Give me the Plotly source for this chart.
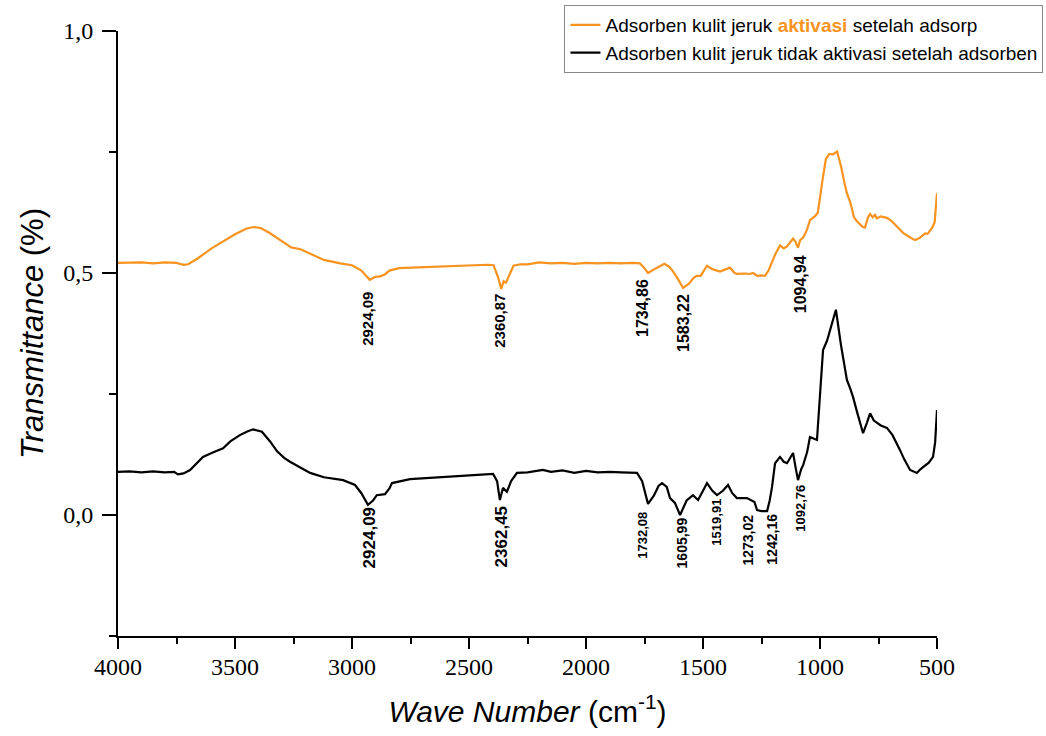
import plotly.graph_objects as go

# ---- Data ----
wn_act = [4000, 3900, 3850, 3800, 3750, 3720, 3700, 3660, 3600, 3550, 3500, 3450, 3420, 3390, 3350, 3300,
          3260, 3220, 3180, 3120, 3050, 3000, 2960, 2924, 2900, 2880, 2860, 2840, 2800, 2700, 2600, 2500,
          2420, 2395, 2375, 2362, 2352, 2342, 2325, 2310, 2280, 2250, 2200, 2150, 2100, 2050, 2000, 1950,
          1900, 1850, 1800, 1770, 1750, 1735, 1700, 1665, 1645, 1632, 1610, 1585, 1560, 1540, 1526, 1510,
          1483, 1460, 1427, 1385, 1365, 1355, 1320, 1300, 1286, 1269, 1250, 1235, 1220, 1205, 1190, 1171,
          1155, 1141, 1115, 1105, 1094, 1085, 1072, 1055, 1043, 1020, 1009, 990, 975, 960, 945, 927, 910,
          895, 885, 870, 855, 842, 820, 808, 795, 786, 775, 765, 757, 740, 714, 695, 679, 660, 645, 620,
          594, 575, 560, 551, 540, 530, 521, 510, 505, 500]
t_act = [0.521, 0.522, 0.520, 0.522, 0.521, 0.517, 0.518, 0.530, 0.551, 0.565, 0.580, 0.592, 0.595, 0.593,
         0.582, 0.566, 0.553, 0.549, 0.540, 0.527, 0.520, 0.516, 0.505, 0.486, 0.492, 0.493, 0.497, 0.505,
         0.510, 0.512, 0.514, 0.516, 0.517, 0.516, 0.490, 0.467, 0.483, 0.480, 0.497, 0.515, 0.518, 0.518,
         0.522, 0.520, 0.521, 0.519, 0.521, 0.520, 0.521, 0.520, 0.521, 0.520, 0.510, 0.500, 0.510, 0.519,
         0.513, 0.506, 0.490, 0.469, 0.478, 0.490, 0.494, 0.494, 0.515, 0.508, 0.503, 0.511, 0.500, 0.498,
         0.499, 0.498, 0.500, 0.494, 0.495, 0.494, 0.505, 0.523, 0.540, 0.557, 0.551, 0.555, 0.571, 0.565,
         0.552, 0.568, 0.573, 0.590, 0.609, 0.618, 0.625, 0.690, 0.735, 0.746, 0.745, 0.751, 0.720, 0.685,
         0.665, 0.645, 0.615, 0.607, 0.596, 0.594, 0.615, 0.622, 0.615, 0.620, 0.613, 0.617, 0.614, 0.608,
         0.600, 0.590, 0.583, 0.575, 0.568, 0.572, 0.578, 0.582, 0.581, 0.588, 0.593, 0.605, 0.630, 0.665]

wn_non = [4000, 3950, 3900, 3850, 3800, 3760, 3744, 3720, 3692, 3660, 3637, 3600, 3551, 3520, 3479, 3450,
          3423, 3385, 3350, 3321, 3290, 3265, 3230, 3179, 3120, 3038, 2987, 2960, 2932, 2910, 2894, 2859,
          2840, 2829, 2752, 2611, 2500, 2397, 2380, 2368, 2355, 2345, 2338, 2320, 2295, 2250, 2184, 2150,
          2100, 2050, 2000, 1950, 1897, 1850, 1782, 1760, 1735, 1710, 1690, 1675, 1655, 1641, 1620, 1598,
          1570, 1543, 1521, 1500, 1483, 1460, 1440, 1415, 1393, 1375, 1355, 1312, 1290, 1280, 1269, 1250,
          1226, 1215, 1205, 1192, 1171, 1155, 1141, 1115, 1105, 1094, 1080, 1072, 1055, 1043, 1013, 1000,
          987, 970, 957, 932, 910, 885, 870, 859, 840, 816, 800, 786, 770, 757, 740, 714, 690, 658, 640,
          615, 600, 586, 570, 551, 535, 517, 508, 500]
t_non = [0.089, 0.090, 0.088, 0.090, 0.088, 0.089, 0.084, 0.086, 0.093, 0.108, 0.120, 0.128, 0.138, 0.152,
         0.165, 0.172, 0.177, 0.172, 0.152, 0.132, 0.118, 0.110, 0.100, 0.087, 0.078, 0.072, 0.062, 0.045,
         0.021, 0.030, 0.041, 0.043, 0.055, 0.066, 0.074, 0.078, 0.081, 0.085, 0.070, 0.031, 0.056, 0.050,
         0.048, 0.070, 0.087, 0.088, 0.093, 0.089, 0.092, 0.087, 0.091, 0.088, 0.089, 0.088, 0.087, 0.070,
         0.023, 0.040, 0.060, 0.066, 0.058, 0.035, 0.025, 0.000, 0.030, 0.041, 0.031, 0.050, 0.066, 0.050,
         0.041, 0.050, 0.062, 0.045, 0.035, 0.035, 0.030, 0.027, 0.010, 0.008, 0.008, 0.030, 0.058, 0.107,
         0.120, 0.110, 0.107, 0.128, 0.100, 0.072, 0.095, 0.103, 0.130, 0.161, 0.155, 0.250, 0.341, 0.360,
         0.382, 0.424, 0.350, 0.279, 0.260, 0.244, 0.210, 0.169, 0.190, 0.210, 0.195, 0.190, 0.185, 0.180,
         0.165, 0.134, 0.115, 0.093, 0.090, 0.087, 0.095, 0.103, 0.108, 0.120, 0.150, 0.217]

# peak labels of the activated sample
peaks_act_lbl = ["2924,09", "2360,87", "1734,86", "1583,22", "1094,94"]
peaks_act_pos = [2932, 2368, 1756, 1581, 1085]          # where the label sits (wavenumber)
peaks_act_top = [0.465, 0.461, 0.492, 0.461, 0.541]     # top of label (y units)
peaks_act_size = [15, 15, 16, 16, 16]

# peak labels of the non-activated sample
peaks_non_lbl = ["2924,09", "2362,45", "1732,08", "1605,99", "1519,91", "1273,02", "1242,16", "1092,76"]
peaks_non_pos = [2927, 2363, 1756, 1590, 1440, 1308, 1205, 1085]
peaks_non_top = [0.019, 0.021, 0.010, 0.000, 0.037, 0.006, 0.006, 0.066]
peaks_non_size = [17, 17, 13, 14, 13, 14, 14, 13]

x_ticks = [4000, 3500, 3000, 2500, 2000, 1500, 1000, 500]
y_ticks = [0.0, 0.5, 1.0]
y_tick_text = ["0,0", "0,5", "1,0"]

ORANGE = "#F7931E"

fig = go.Figure()
fig.add_trace(go.Scatter(
    x=wn_act, y=t_act, mode="lines",
    line=dict(color=ORANGE, width=2.2),
    name="Adsorben kulit jeruk <span style='color:%s'><b>aktivasi</b></span> setelah adsorp" % ORANGE))
fig.add_trace(go.Scatter(
    x=wn_non, y=t_non, mode="lines",
    line=dict(color="black", width=2.2),
    name="Adsorben kulit jeruk tidak aktivasi setelah adsorben"))

ann = []
for lbl, xv, top, sz in zip(peaks_act_lbl + peaks_non_lbl, peaks_act_pos + peaks_non_pos,
                            peaks_act_top + peaks_non_top, peaks_act_size + peaks_non_size):
    ann.append(dict(x=xv, y=top, xref="x", yref="y", text="<b>%s</b>" % lbl, showarrow=False,
                    textangle=-90, xanchor="center", yanchor="top",
                    font=dict(family="Liberation Sans, Arial", size=sz, color="black")))

fig.update_layout(
    width=1046, height=736,
    margin=dict(l=118, r=109, t=31, b=100, autoexpand=False),
    paper_bgcolor="white", plot_bgcolor="white",
    annotations=ann,
    showlegend=True,
    legend=dict(x=1.13, y=1.043, xanchor="right", yanchor="top",
                bgcolor="white", bordercolor="#888888", borderwidth=1,
                font=dict(family="Liberation Sans, Arial", size=19, color="black"),
                itemwidth=30, tracegroupgap=0),
)

fig.update_xaxes(
    range=[4000, 500], autorange=False,
    tickvals=x_ticks, ticktext=[str(v) for v in x_ticks],
    ticks="outside", ticklen=11, tickwidth=1.5, tickcolor="black",
    minor=dict(dtick=250, tick0=0, ticks="outside", ticklen=6, tickwidth=1.5, tickcolor="black"),
    showline=True, linewidth=2, linecolor="black",
    showgrid=False, zeroline=False,
    tickfont=dict(family="Liberation Serif, Times New Roman", size=24, color="black"),
    ticklabelstandoff=-3,
    title=dict(text="<i>Wave Number</i> (cm<sup>-1</sup>)",
               font=dict(family="Liberation Sans, Arial", size=30, color="black"), standoff=22),
)
fig.update_yaxes(
    range=[-0.25, 1.0], autorange=False,
    tickvals=y_ticks, ticktext=y_tick_text,
    ticks="outside", ticklen=14, tickwidth=1.5, tickcolor="black",
    minor=dict(tickvals=[-0.25, 0.25, 0.75], ticks="outside", ticklen=7, tickwidth=1.5, tickcolor="black"),
    showline=True, linewidth=2, linecolor="black",
    showgrid=False, zeroline=False,
    tickfont=dict(family="Liberation Serif, Times New Roman", size=24, color="black"),
    ticklabelstandoff=4,
    title=dict(text="<i>Transmittance</i> (%)",
               font=dict(family="Liberation Sans, Arial", size=31, color="black"), standoff=10),
)

fig.write_html("out.html")
